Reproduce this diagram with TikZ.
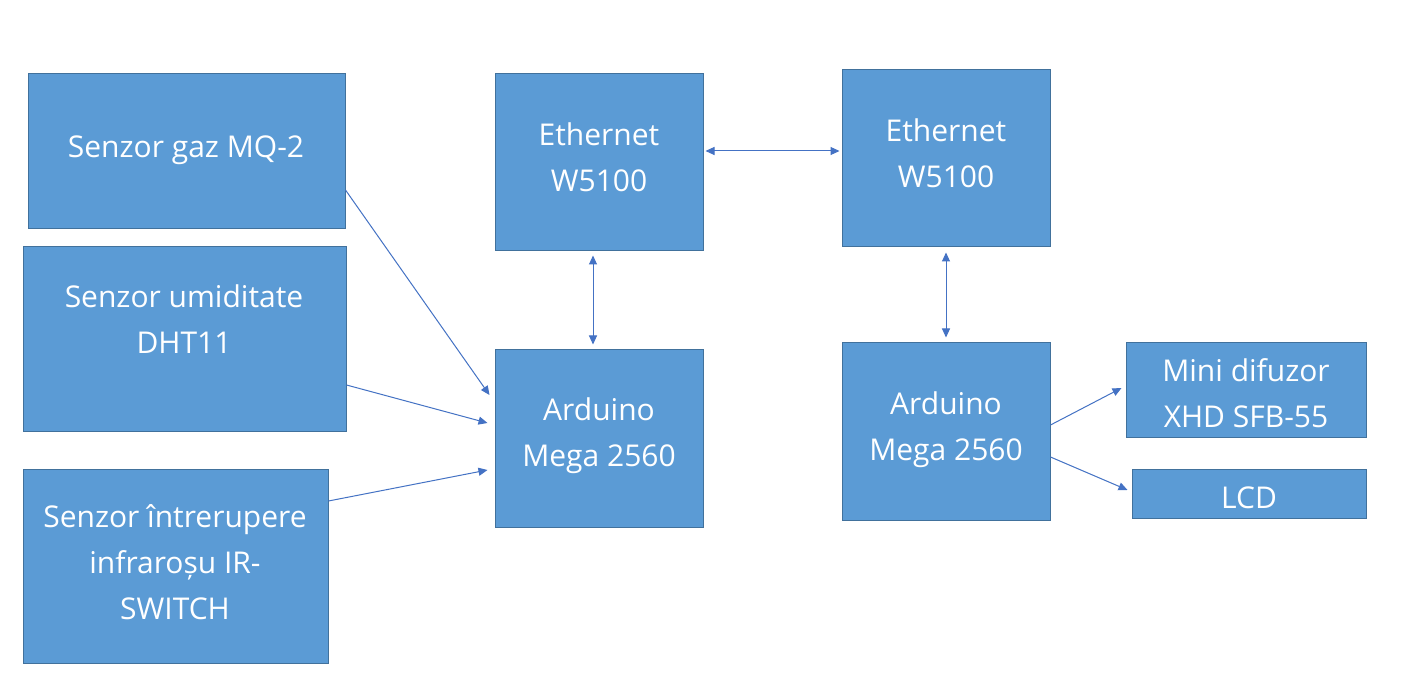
\documentclass[tikz,border=0pt]{standalone}
\usepackage{fontspec}
\setmainfont{Open Sans}
\usetikzlibrary{arrows.meta}
\definecolor{boxfill}{HTML}{5B9BD5}
\definecolor{boxborder}{HTML}{41719C}
\definecolor{arrowc}{HTML}{4472C4}
\begin{document}
\begin{tikzpicture}[x=1pt,y=-1pt,
  box/.style={draw=boxborder, fill=boxfill, line width=1pt, inner sep=0pt},
  lbl/.style={text=white, font=\fontsize{30}{46}\selectfont, align=center, inner sep=0pt},
  arr/.style={draw=arrowc, line width=1pt, -{Triangle[length=9pt,width=8pt]}},
  darr/.style={draw=arrowc, line width=1pt, {Triangle[length=9pt,width=8pt]}-{Triangle[length=9pt,width=8pt]}}]
\useasboundingbox (0,0) rectangle (1401,692);
\fill[white] (0,0) rectangle (1401,692);
% boxes
\node[box, minimum width=317pt, minimum height=155pt] (A) at (186.5,151.5) {};
\node[box, minimum width=323pt, minimum height=185pt] (B) at (184.5,339.5) {};
\node[box, minimum width=305pt, minimum height=193pt] (C) at (175.5,566.5) {};
\node[box, minimum width=208pt, minimum height=177pt] (D) at (599,162.5) {};
\node[box, minimum width=208pt, minimum height=177pt] (E) at (599,438.5) {};
\node[box, minimum width=208pt, minimum height=177pt] (F) at (946,158.5) {};
\node[box, minimum width=208pt, minimum height=177pt] (G) at (946,431.5) {};
\node[box, minimum width=240pt, minimum height=95pt] (H) at (1246,390.5) {};
\node[box, minimum width=234pt, minimum height=48pt] (I) at (1249,494) {};
% labels
\node[lbl] (tA) at (186,150) {Senzor gaz MQ-2};
\node[lbl] (tB) at (184,319) {Senzor umiditate\\DHT11};
\node[lbl] (tC) at (175,562) {Senzor întrerupere\\infraroșu IR-\\SWITCH};
\node[lbl] (tD) at (599,157) {Ethernet\\W5100};
\node[lbl] (tE) at (599,436) {Arduino\\Mega 2560};
\node[lbl] (tF) at (946,153) {Ethernet\\W5100};
\node[lbl] (tG) at (946,430) {Arduino\\Mega 2560};
\node[lbl] (tH) at (1246,393.5) {Mini difuzor\\XHD SFB-55};
\node[lbl] (tI) at (1249,498) {LCD};
% connectors
\draw[arr] ([yshift=-38.5pt]A.east) -- ([xshift=-5pt,yshift=43.5pt]E.west);
\draw[arr] ([yshift=-45.5pt]B.east) -- ([xshift=-7pt,yshift=15.5pt]E.west);
\draw[arr] ([yshift=65.5pt]C.east) -- ([xshift=-7pt,yshift=-31.5pt]E.west);
\draw[darr] ([xshift=-6pt,yshift=-4pt]D.south) -- ([xshift=-6pt,yshift=5pt]E.north);
\draw[darr] ([xshift=2pt,yshift=11.5pt]D.east) -- ([xshift=-2pt,yshift=7.5pt]F.west);
\draw[darr] ([yshift=-5pt]F.south) -- ([yshift=5pt]G.north);
\draw[arr] ([yshift=6.5pt]G.east) -- ([xshift=-4pt,yshift=2.5pt]H.west);
\draw[arr] ([yshift=-25.5pt]G.east) -- ([xshift=-4pt,yshift=4pt]I.west);
\end{tikzpicture}
\end{document}
